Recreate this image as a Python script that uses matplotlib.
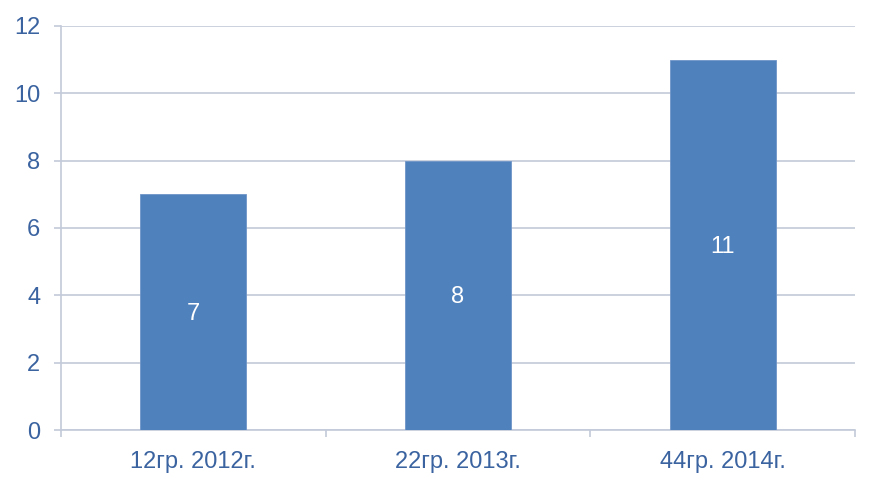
import matplotlib
matplotlib.use("Agg")
import matplotlib.pyplot as plt
import numpy as np

categories = ["12гр. 2012г.", "22гр. 2013г.", "44гр. 2014г."]
values = [7, 8, 11]

bar_color = "#4f81bd"
text_color = "#3a63a0"
grid_color = "#c3cad9"

plt.rcParams['font.family'] = ['Liberation Sans', 'DejaVu Sans']

fig = plt.figure(figsize=(8.75, 4.86), dpi=100)
ax = fig.add_axes([61 / 875, 56 / 486, 794 / 875, 404 / 486])

x = np.arange(len(categories))
bars = ax.bar(x, values, width=0.4, color=bar_color, edgecolor="#6f95c8", linewidth=0.6, zorder=3)

for b, v in zip(bars, values):
    ax.text(b.get_x() + b.get_width() / 2, v / 2 - 0.05, str(v), ha="center", va="center",
            color="white", fontsize=17, zorder=4)

ax.set_xlim(-0.5, len(categories) - 0.5)
ax.set_ylim(0, 12)
ax.set_yticks(np.arange(0, 13, 2))
ax.yaxis.grid(True, color=grid_color, linewidth=1.2, zorder=0)

ax.set_xticks(x)
ax.set_xticklabels(categories)
ax.set_xticks(np.arange(-0.5, len(categories)), minor=True)
ax.tick_params(axis="x", which="major", length=0, pad=15, labelsize=17, labelcolor=text_color)
ax.tick_params(axis="x", which="minor", length=5, width=1.2, color=grid_color, direction="out")
ax.tick_params(axis="y", length=5, width=1.2, color=grid_color, pad=10, labelsize=17, labelcolor=text_color)

for s in ["top", "right"]:
    ax.spines[s].set_visible(False)
ax.spines["left"].set_color(grid_color)
ax.spines["bottom"].set_color(grid_color)
ax.spines["left"].set_linewidth(1.2)
ax.spines["bottom"].set_linewidth(1.2)

fig.savefig("out.png", dpi=100)
